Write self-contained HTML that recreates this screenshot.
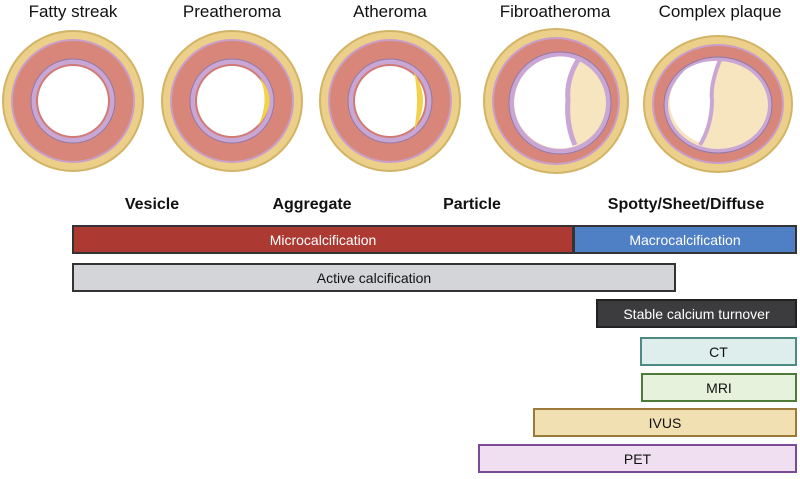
<!DOCTYPE html>
<html><head><meta charset="utf-8"><style>
body{margin:0;width:800px;height:479px;background:#fff;overflow:hidden;font-family:"Liberation Sans",sans-serif;position:relative}
.t{position:absolute;font-size:17px;color:#111;transform:translateX(-50%);white-space:nowrap;top:2px}
.h{position:absolute;font-size:16px;font-weight:bold;color:#111;transform:translateX(-50%);white-space:nowrap;top:196px}
.b{position:absolute;box-sizing:border-box;border:2px solid;display:flex;align-items:center;justify-content:center;font-size:14px;color:#111}
</style></head><body>
<svg width="800" height="180" style="position:absolute;left:0;top:0">
<defs>
<g id="art">
<circle r="70" fill="#ecd08a" stroke="#d2b467" stroke-width="2"/>
<circle r="62" fill="#c99ec8"/>
<circle r="60" fill="#d9867a"/>
<circle r="42" fill="#c9a6d3" stroke="#8f79a8" stroke-width="1"/>
<circle r="37" fill="#d07a74"/>
<circle r="35" fill="#fff"/>
</g>
</defs>
<use href="#art" x="73" y="101"/>
<use href="#art" x="232" y="101"/>
<use href="#art" x="390" y="101"/>
<path d="M260 78 Q280 101 258 126 Q270 101 260 78Z" fill="#f2d24a"/>
<path d="M414 72 Q432 101 414 130 Q420 101 414 72Z" fill="#f2d24a"/>
<!-- fibroatheroma -->
<circle cx="556" cy="101" r="72" fill="#ecd08a" stroke="#d2b467" stroke-width="2"/>
<circle cx="556" cy="101" r="64" fill="#c99ec8"/>
<circle cx="556" cy="101" r="62" fill="#d9867a"/>
<circle cx="560" cy="103" r="51" fill="#c9a6d3" stroke="#8f79a8"/>
<circle cx="560" cy="103" r="46" fill="#f7e5c0"/>
<path d="M578 60 A46 46 0 1 0 575 146 Q566 125 568 100 Q566 80 578 60Z" fill="#fff"/>
<path d="M578 60 Q566 80 568 100 Q566 125 575 145" fill="none" stroke="#c9a6d3" stroke-width="5"/>
<!-- complex -->
<ellipse cx="718" cy="104" rx="74" ry="68" fill="#ecd08a" stroke="#d2b467" stroke-width="2"/>
<ellipse cx="718" cy="104" rx="66" ry="60" fill="#c99ec8"/>
<ellipse cx="718" cy="104" rx="64" ry="58" fill="#d9867a"/>
<ellipse cx="718" cy="105" rx="54" ry="48" fill="#c9a6d3" stroke="#8f79a8"/>
<ellipse cx="718" cy="105" rx="50" ry="44" fill="#f7e5c0"/>
<path d="M720 61 Q700 60 685 70 Q667 88 670 108 Q675 132 700 143 Q712 120 712 100 Q714 80 720 61Z" fill="#fff"/>
<path d="M720 60 Q710 85 712 100 Q712 125 700 145" fill="none" stroke="#c9a6d3" stroke-width="4"/>
</svg>
<div class="t" style="left:73px">Fatty streak</div>
<div class="t" style="left:232px">Preatheroma</div>
<div class="t" style="left:390px">Atheroma</div>
<div class="t" style="left:555px">Fibroatheroma</div>
<div class="t" style="left:720px">Complex plaque</div>
<div class="h" style="left:152px">Vesicle</div>
<div class="h" style="left:312px">Aggregate</div>
<div class="h" style="left:472px">Particle</div>
<div class="h" style="left:686px">Spotty/Sheet/Diffuse</div>
<div class="b" style="left:72px;top:225px;width:502px;height:29px;background:#ac3a32;border-color:#333;color:#fff">Microcalcification</div>
<div class="b" style="left:573px;top:225px;width:224px;height:29px;background:#4f7fc4;border-color:#333;color:#fff">Macrocalcification</div>
<div class="b" style="left:72px;top:263px;width:604px;height:29px;background:#d4d5d8;border-color:#333">Active calcification</div>
<div class="b" style="left:596px;top:299px;width:201px;height:29px;background:#3c3c3e;border-color:#222;color:#fff">Stable calcium turnover</div>
<div class="b" style="left:640px;top:337px;width:157px;height:29px;background:#ddeeed;border-color:#4e8a84">CT</div>
<div class="b" style="left:641px;top:373px;width:156px;height:29px;background:#e6f2dc;border-color:#4d7a36">MRI</div>
<div class="b" style="left:533px;top:408px;width:264px;height:29px;background:#f1e0b2;border-color:#9b7a3a">IVUS</div>
<div class="b" style="left:478px;top:444px;width:319px;height:29px;background:#efdff0;border-color:#7c4a94">PET</div>
</body></html>
